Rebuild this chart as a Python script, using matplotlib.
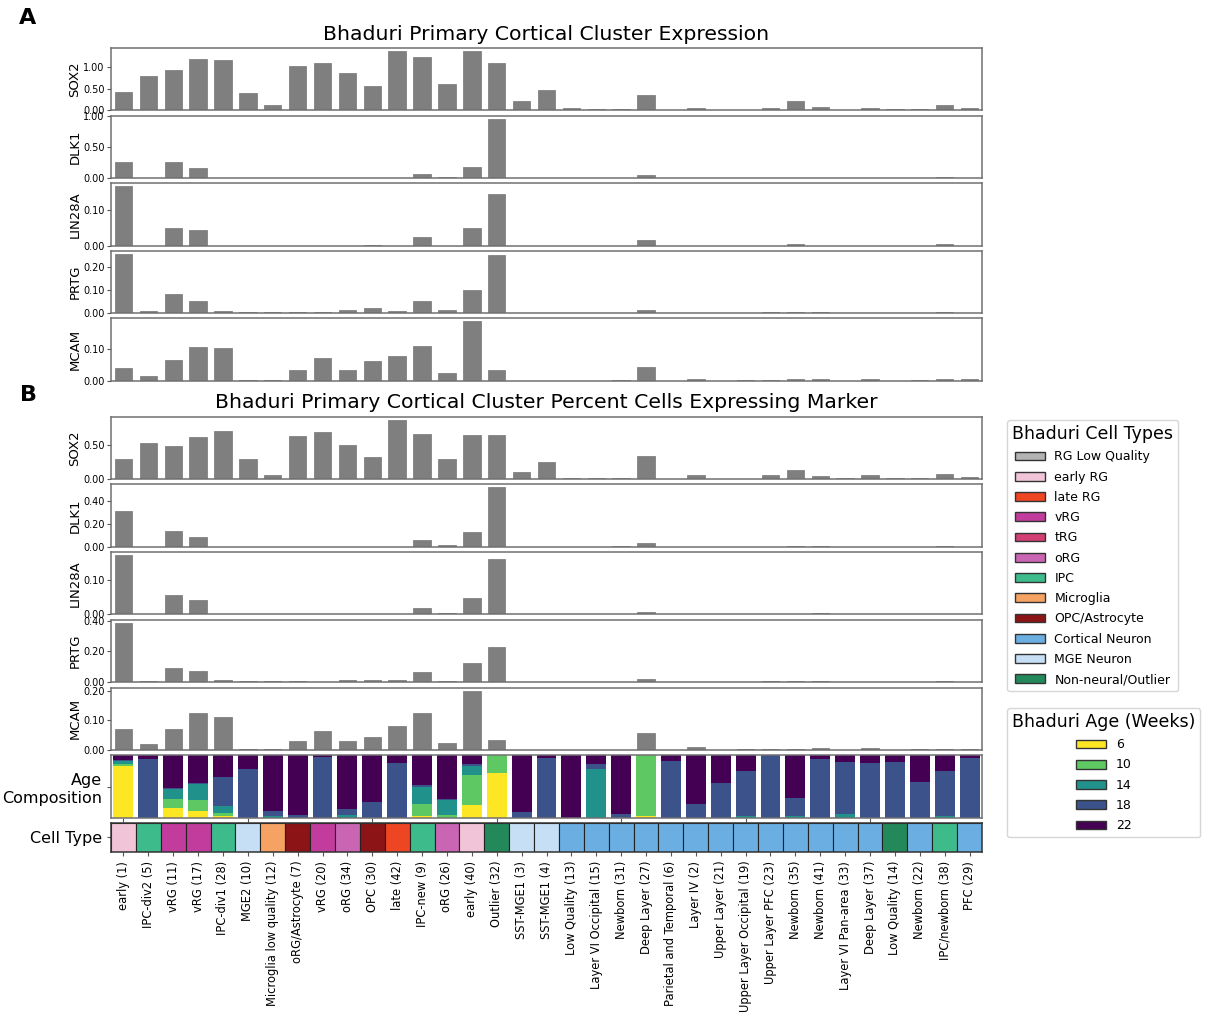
import numpy as np
import matplotlib
matplotlib.use("Agg")
import matplotlib.pyplot as plt
from matplotlib.patches import Patch
from matplotlib.ticker import FormatStrFormatter

plt.rcParams['font.family'] = ['DejaVu Sans']

# ---- data -------------------------------------------------------------
labels = ["early (1)", "IPC-div2 (5)", "vRG (11)", "vRG (17)", "IPC-div1 (28)", "MGE2 (10)",
          "Microglia low quality (12)", "oRG/Astrocyte (7)", "vRG (20)", "oRG (34)", "OPC (30)",
          "late (42)", "IPC-new (9)", "oRG (26)", "early (40)", "Outlier (32)", "SST-MGE1 (3)",
          "SST-MGE1 (4)", "Low Quality (13)", "Layer VI Occipital (15)", "Newborn (31)",
          "Deep Layer (27)", "Parietal and Temporal (6)", "Layer IV (2)", "Upper Layer (21)",
          "Upper Layer Occipital (19)", "Upper Layer PFC (23)", "Newborn (35)", "Newborn (41)",
          "Layer VI Pan-area (33)", "Deep Layer (37)", "Low Quality (14)", "Newborn (22)",
          "IPC/newborn (38)", "PFC (29)"]

cell_types = ["early RG", "IPC", "vRG", "vRG", "IPC", "MGE Neuron", "Microglia", "OPC/Astrocyte",
              "vRG", "oRG", "OPC/Astrocyte", "late RG", "IPC", "oRG", "early RG", "Non-neural/Outlier",
              "MGE Neuron", "MGE Neuron"] + ["Cortical Neuron"] * 13 + \
             ["Non-neural/Outlier", "Cortical Neuron", "IPC", "Cortical Neuron"]

genes = ["SOX2", "DLK1", "LIN28A", "PRTG", "MCAM"]

# A: mean expression
expr_sox2 = [0.41, 0.80, 0.94, 1.19, 1.17, 0.39, 0.11, 1.02, 1.10, 0.86, 0.57, 1.39, 1.23, 0.60, 1.39,
             1.09, 0.20, 0.46, 0.04, 0.02, 0.03, 0.35, 0.01, 0.055, 0.01, 0.01, 0.05, 0.20, 0.065, 0.01,
             0.04, 0.03, 0.03, 0.12, 0.04]
expr_dlk1 = [0.26, 0, 0.26, 0.16, 0, 0, 0, 0, 0, 0, 0, 0, 0.07, 0.02, 0.18, 0.955, 0, 0, 0.005, 0,
             0.01, 0.06, 0, 0, 0, 0, 0, 0.01, 0.01, 0, 0, 0, 0, 0.015, 0]
expr_lin28a = [0.167, 0, 0.049, 0.045, 0, 0, 0, 0, 0, 0, 0.001, 0, 0.024, 0, 0.051, 0.145, 0, 0, 0, 0,
               0, 0.016, 0, 0, 0, 0, 0, 0.005, 0, 0, 0, 0, 0, 0.004, 0]
expr_prtg = [0.256, 0.009, 0.081, 0.052, 0.01, 0.007, 0.004, 0.007, 0.006, 0.016, 0.022, 0.012, 0.052,
             0.013, 0.098, 0.252, 0, 0, 0.002, 0.002, 0.003, 0.014, 0.001, 0.003, 0.001, 0.001, 0.007,
             0.007, 0.007, 0, 0, 0, 0.003, 0.006, 0]
expr_mcam = [0.041, 0.016, 0.064, 0.106, 0.103, 0.001, 0.001, 0.033, 0.071, 0.034, 0.061, 0.078, 0.108,
             0.023, 0.186, 0.032, 0, 0, 0, 0, 0.002, 0.044, 0, 0.006, 0, 0.003, 0.002, 0.004, 0.004, 0,
             0.004, 0, 0.002, 0.005, 0.004]
ticks_a = [[0, 0.5, 1.0], [0, 0.5, 1.0], [0, 0.1], [0, 0.1, 0.2], [0, 0.1]]

# B: fraction of cells expressing marker
pct_sox2 = [0.292, 0.54, 0.485, 0.62, 0.718, 0.30, 0.06, 0.644, 0.693, 0.51, 0.332, 0.881, 0.663, 0.292,
            0.653, 0.653, 0.104, 0.252, 0.015, 0.015, 0.015, 0.347, 0.005, 0.054, 0.005, 0.005, 0.054,
            0.134, 0.05, 0.01, 0.064, 0.01, 0.01, 0.07, 0.03]
pct_dlk1 = [0.307, 0, 0.137, 0.088, 0, 0, 0, 0, 0, 0, 0, 0, 0.055, 0.012, 0.128, 0.517, 0, 0, 0, 0,
            0.003, 0.035, 0, 0, 0, 0, 0, 0.003, 0.003, 0, 0, 0, 0, 0.006, 0]
pct_lin28a = [0.173, 0, 0.057, 0.043, 0, 0, 0.001, 0, 0, 0, 0, 0, 0.018, 0.003, 0.047, 0.161, 0, 0, 0, 0,
              0, 0.008, 0, 0, 0, 0, 0, 0.002, 0.003, 0, 0, 0, 0, 0.002, 0]
pct_prtg = [0.389, 0.004, 0.09, 0.07, 0.009, 0.004, 0.002, 0.004, 0, 0.011, 0.013, 0.011, 0.064, 0.007,
            0.123, 0.229, 0, 0, 0, 0, 0, 0.018, 0, 0, 0, 0, 0.004, 0.007, 0.007, 0, 0, 0, 0, 0.004, 0]
pct_mcam = [0.07, 0.019, 0.071, 0.124, 0.11, 0.004, 0.003, 0.031, 0.064, 0.031, 0.045, 0.082, 0.125,
            0.025, 0.20, 0.034, 0, 0, 0, 0, 0, 0.057, 0, 0.009, 0, 0.002, 0.002, 0.004, 0.006, 0, 0.008,
            0, 0.002, 0.004, 0.004]
ticks_b = [[0, 0.5], [0, 0.2, 0.4], [0, 0.1], [0, 0.2, 0.4], [0, 0.1, 0.2]]

# age composition (fraction of cells per age, weeks)
weeks = ["6", "10", "14", "18", "22"]
age6 = [0.83, 0, 0.17, 0.12, 0.03, 0, 0, 0, 0, 0, 0, 0, 0.04, 0.01, 0.21, 0.71, 0, 0, 0, 0, 0, 0.03, 0,
        0, 0, 0, 0, 0, 0, 0, 0, 0, 0, 0, 0]
age10 = [0.035, 0, 0.13, 0.17, 0.06, 0, 0, 0, 0, 0, 0, 0, 0.18, 0.05, 0.47, 0.29, 0, 0, 0, 0, 0, 0.97, 0,
         0, 0, 0, 0, 0, 0, 0, 0, 0.01, 0, 0, 0]
age14 = [0.035, 0, 0.17, 0.25, 0.10, 0, 0.03, 0, 0, 0.06, 0, 0, 0.28, 0.23, 0.15, 0, 0, 0, 0, 0.78, 0, 0,
         0, 0, 0, 0.04, 0, 0.035, 0, 0.07, 0, 0, 0, 0.04, 0]
age18 = [0.02, 0.94, 0.01, 0.01, 0.47, 0.78, 0.08, 0.06, 0.97, 0.08, 0.25, 0.87, 0.02, 0.02, 0.02, 0,
         0.105, 0.95, 0.01, 0.08, 0.07, 0, 0.91, 0.22, 0.55, 0.71, 1.0, 0.29, 0.93, 0.82, 0.88, 0.88,
         0.57, 0.70, 0.96]
age22 = [0.08, 0.06, 0.52, 0.45, 0.34, 0.22, 0.89, 0.94, 0.03, 0.86, 0.75, 0.13, 0.48, 0.69, 0.15, 0,
         0.895, 0.05, 0.99, 0.14, 0.93, 0, 0.09, 0.78, 0.45, 0.25, 0, 0.675, 0.07, 0.11, 0.12, 0.11,
         0.43, 0.26, 0.04]

type_colors = {
    "RG Low Quality": "#b3b3b3",
    "early RG": "#f1c5d7",
    "late RG": "#ee4522",
    "vRG": "#c13c9c",
    "tRG": "#d33f74",
    "oRG": "#c965b2",
    "IPC": "#3dbb8b",
    "Microglia": "#f5a263",
    "OPC/Astrocyte": "#8c1416",
    "Cortical Neuron": "#6aaee2",
    "MGE Neuron": "#c7dff4",
    "Non-neural/Outlier": "#23895a",
}
age_colors = ["#fde725", "#5ec962", "#21918c", "#3b528b", "#440154"]

# ---- layout (pixel positions of the reference) -------------------------
W, H = 1208, 1018
L, R = 111, 982
rows_a = [(47.7, 110), (115.7, 178.3), (183.3, 245.7), (250.7, 313.3), (318.3, 380.7)]
rows_b = [(416.7, 479), (484.3, 546.7), (552.3, 614.3), (620, 681.7), (687.7, 750)]

fig = plt.figure(figsize=(W / 100, H / 100), dpi=100)
x = np.arange(len(labels))


def px_axes(top, bottom):
    return fig.add_axes([L / W, 1 - bottom / H, (R - L) / W, (bottom - top) / H])


def style_spines(ax, color="#707070"):
    for s in ax.spines.values():
        s.set_color(color)
        s.set_linewidth(1.1)


def gene_panel(rows, series, ticks):
    for (top, bottom), vals, g, tk in zip(rows, series, genes, ticks):
        ax = px_axes(top, bottom)
        ax.bar(x, vals, width=0.7, color="#7f7f7f", edgecolor="#767676", linewidth=0.5)
        ax.set_xlim(-0.5, len(x) - 0.5)
        ax.set_yticks(tk)
        ax.yaxis.set_major_formatter(FormatStrFormatter("%.2f"))
        ax.set_xticks([])
        ax.tick_params(axis="y", labelsize=7, length=3, pad=1.5, color="#555555")
        ax.set_ylabel(g, fontsize=9.5)
        ax.yaxis.set_label_coords(-0.034, 0.5)
        style_spines(ax)


gene_panel(rows_a, [expr_sox2, expr_dlk1, expr_lin28a, expr_prtg, expr_mcam], ticks_a)
gene_panel(rows_b, [pct_sox2, pct_dlk1, pct_lin28a, pct_prtg, pct_mcam], ticks_b)

# age composition
ax_age = px_axes(755, 818.3)
bottom = np.zeros(len(x))
for frac, col in zip([age6, age10, age14, age18, age22], age_colors):
    ax_age.bar(x, frac, bottom=bottom, width=0.8, color=col)
    bottom += np.array(frac)
ax_age.set_xlim(-0.5, len(x) - 0.5)
ax_age.set_ylim(0, 1)
ax_age.set_yticks([0.5])
ax_age.set_yticklabels(["Age\nComposition"], fontsize=11.5, multialignment="right")
ax_age.set_xticks(range(0, len(x), 5))
ax_age.set_xticklabels([])
ax_age.tick_params(length=3, color="#555555")
style_spines(ax_age)

# cell type strip
ax_ct = px_axes(822.7, 851.7)
ax_ct.bar(x, 1, width=1.0, color=[type_colors[t] for t in cell_types],
          edgecolor="#222222", linewidth=0.8)
ax_ct.set_xlim(-0.5, len(x) - 0.5)
ax_ct.set_ylim(0, 1)
ax_ct.set_yticks([0.5])
ax_ct.set_yticklabels(["Cell Type"], fontsize=11.5)
ax_ct.set_xticks(x)
ax_ct.set_xticklabels(labels, rotation=90, fontsize=8.3)
ax_ct.tick_params(length=3, color="#555555")
style_spines(ax_ct, "#333333")

# titles and panel letters
fig.text(546.5 / W, 1 - 34 / H, "Bhaduri Primary Cortical Cluster Expression",
         fontsize=14.7, ha="center", va="center")
fig.text(546.5 / W, 1 - 403 / H, "Bhaduri Primary Cortical Cluster Percent Cells Expressing Marker",
         fontsize=14.7, ha="center", va="center")
fig.text(28 / W, 1 - 18 / H, "A", fontsize=16, fontweight="bold", ha="center", va="center")
fig.text(28 / W, 1 - 395 / H, "B", fontsize=16, fontweight="bold", ha="center", va="center")

# legends
type_handles = [Patch(facecolor=c, edgecolor="#333333", label=k) for k, c in type_colors.items()]
age_handles = [Patch(facecolor=c, edgecolor="#333333", label=w) for w, c in zip(weeks, age_colors)]
fig.legend(handles=type_handles, title="Bhaduri Cell Types", loc="upper left",
           bbox_to_anchor=(1007 / W, 1 - 420 / H), fontsize=9, title_fontsize=12.5,
           handlelength=2.4, borderaxespad=0, labelspacing=0.58)
fig.legend(handles=age_handles, title="Bhaduri Age (Weeks)", loc="upper left",
           bbox_to_anchor=(1007 / W, 1 - 708 / H), fontsize=9, title_fontsize=12.5,
           handlelength=2.4, borderaxespad=0, labelspacing=0.58)

fig.savefig("out.png", dpi=100)
